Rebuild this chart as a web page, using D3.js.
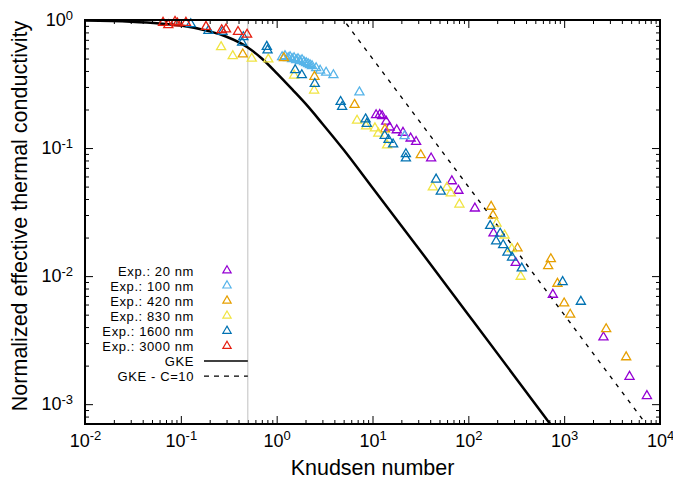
<!DOCTYPE html>
<html lang="en">
<head>
<meta charset="UTF-8">
<title>Knudsen number vs normalized conductivity</title>
<style>
  body { margin: 0; background: #fff; }
  svg { display: block; font-family: "Liberation Sans", Arial, Helvetica, sans-serif; }
  .axis path { display: none; }
  .axis line { stroke: #000; stroke-width: 1; }
  .axis text { fill: #000; }
</style>
</head>
<body>
<script src="https://cdn.jsdelivr.net/npm/d3@7"></script>
<script>

// ---- data ----
var kn20 = [10.9, 11.9, 12.6, 13.9, 15.1, 17.9, 20.8, 25.0, 28.5, 40.9, 67.3, 78.8, 117, 183, 312, 762, 2570, 4808, 7300];
var k20  = [0.181, 0.182, 0.178, 0.161, 0.145, 0.138, 0.132, 0.119, 0.112, 0.0832, 0.0552, 0.0465, 0.0338, 0.0216, 0.0127, 0.00717, 0.00333, 0.00164, 0.00116];

var kn100 = [1.14, 1.22, 1.32, 1.38, 1.45, 1.52, 1.60, 1.67, 1.75, 1.84, 1.93, 2.03, 2.13, 2.23, 2.34, 2.58, 2.84, 3.28, 3.91, 7.30, 21.6];
var k100  = [0.514, 0.524, 0.505, 0.514, 0.496, 0.505, 0.487, 0.496, 0.479, 0.487, 0.470, 0.462, 0.453, 0.445, 0.437, 0.422, 0.403, 0.389, 0.372, 0.273, 0.124];

var kn420 = [0.443, 1.19, 2.48, 6.50, 13.5, 31.9, 173, 181, 326, 726, 681, 851, 1000, 1156, 2743, 4436];
var k420  = [0.540, 0.505, 0.361, 0.218, 0.140, 0.0883, 0.0349, 0.0298, 0.0165, 0.0136, 0.0120, 0.00874, 0.00614, 0.00501, 0.00386, 0.00233];

var kn830 = [0.263, 0.348, 0.550, 0.818, 1.52, 2.46, 6.90, 8.57, 10.6, 11.5, 14.2, 42.6, 59.7, 65.6, 80.7, 197, 239, 284, 352];
var k830  = [0.616, 0.524, 0.500, 0.493, 0.369, 0.282, 0.164, 0.148, 0.143, 0.130, 0.105, 0.0494, 0.0492, 0.0444, 0.0363, 0.0258, 0.0208, 0.0163, 0.00991];

var kn1600 = [0.127, 0.194, 0.272, 0.449, 0.436, 0.789, 0.803, 1.56, 1.83, 2.50, 4.65, 4.82, 8.47, 8.72, 13.4, 14.7, 16.4, 22.3, 22.3, 46.1, 51.6, 169, 215, 195, 231, 256, 286, 361, 964, 1493];
var k1600  = [0.931, 0.825, 0.810, 0.737, 0.667, 0.619, 0.580, 0.407, 0.372, 0.318, 0.230, 0.210, 0.168, 0.155, 0.125, 0.116, 0.107, 0.0899, 0.0832, 0.0569, 0.0458, 0.0247, 0.0215, 0.0187, 0.0175, 0.0153, 0.0140, 0.0115, 0.00901, 0.00632];

var kn3000 = [0.0652, 0.0740, 0.0869, 0.0919, 0.113, 0.183, 0.267, 0.296, 0.395, 0.491];
var k3000  = [0.953, 0.914, 0.970, 0.942, 0.953, 0.887, 0.835, 0.846, 0.810, 0.770];

// model curves
var gkeKn = [0.01, 0.03, 0.06, 0.1, 0.2, 0.3, 0.5, 0.7, 1, 1.5, 2, 3, 5, 10, 30, 100, 300, 1000];
var gkeK  = [0.99, 0.97, 0.94, 0.905, 0.815, 0.74, 0.61, 0.50, 0.385, 0.28, 0.222, 0.155, 0.097, 0.049, 0.0166, 0.005, 0.00167, 0.0005];
var gkeCKn = [4, 5, 10, 100, 1000, 10000];
var gkeCK  = [1.25, 1.0, 0.5, 0.05, 0.005, 0.0005];

var labels = ["Exp.: 20 nm", "Exp.: 100 nm", "Exp.: 420 nm", "Exp.: 830 nm", "Exp.: 1600 nm", "Exp.: 3000 nm"];
var colors = ["#9400D3", "#56B4E9", "#E69F00", "#F0E442", "#0072B2", "#E51E10"];

var xMajor = [1e-2, 1e-1, 1, 10, 100, 1000, 10000];
var yMajor = [1e-3, 1e-2, 1e-1, 1];

// ---- chart ----
var width = 673, height = 486;
var margin = {top: 20, right: 13, bottom: 62, left: 85};

var svg = d3.select("body").append("svg")
    .attr("width", width)
    .attr("height", height);

var x = d3.scaleLog().domain([1e-2, 1e4]).range([margin.left, width - margin.right]);
var y = d3.scaleLog().domain([7e-4, 1]).range([height - margin.bottom, margin.top]);

var xMinor = [], yMinor = [];
xMajor.slice(0, -1).forEach(function(d){
  for (var i = 2; i < 10; i++) xMinor.push(d * i);
});
[1e-4].concat(yMajor.slice(0, -1)).forEach(function(d){
  for (var i = 2; i < 10; i++) if (d * i >= 7e-4) yMinor.push(d * i);
});

var series = [
  {kn: kn20, k: k20}, {kn: kn100, k: k100}, {kn: kn420, k: k420},
  {kn: kn830, k: k830}, {kn: kn1600, k: k1600}, {kn: kn3000, k: k3000}
];
series.forEach(function(s, i){
  s.label = labels[i];
  s.color = colors[i];
  s.points = s.kn.map(function(v, j){ return [v, s.k[j]]; });
});

svg.append("clipPath").attr("id", "plot")
  .append("rect")
    .attr("x", margin.left).attr("y", margin.top)
    .attr("width", width - margin.left - margin.right)
    .attr("height", height - margin.top - margin.bottom);

// ticks (inward, mirrored)
function sup(sel){
  sel.each(function(d){
    var t = d3.select(this).text(null);
    t.append("tspan").text("10");
    t.append("tspan").attr("dy", "-0.5em").attr("font-size", "13px")
      .text(Math.round(Math.log10(d)));
  });
}

var bottom = height - margin.bottom, right = width - margin.right;

var gx = svg.append("g").attr("class", "axis")
    .attr("transform", "translate(0," + bottom + ")")
    .call(d3.axisBottom(x).tickValues(xMajor).tickSize(-8).tickPadding(10).tickFormat(function(){ return ""; }));
gx.attr("font-size", 18).attr("font-family", null);
gx.selectAll(".tick text").call(sup);
svg.append("g").attr("class", "axis")
    .attr("transform", "translate(0," + bottom + ")")
    .call(d3.axisBottom(x).tickValues(xMinor).tickSize(-4).tickFormat(""));
svg.append("g").attr("class", "axis")
    .attr("transform", "translate(0," + margin.top + ")")
    .call(d3.axisTop(x).tickValues(xMajor).tickSize(-8).tickFormat(""));
svg.append("g").attr("class", "axis")
    .attr("transform", "translate(0," + margin.top + ")")
    .call(d3.axisTop(x).tickValues(xMinor).tickSize(-4).tickFormat(""));

var gy = svg.append("g").attr("class", "axis")
    .attr("transform", "translate(" + margin.left + ",0)")
    .call(d3.axisLeft(y).tickValues(yMajor).tickSize(-8).tickPadding(12).tickFormat(function(){ return ""; }));
gy.attr("font-size", 18).attr("font-family", null);
gy.selectAll(".tick text").call(sup);
svg.append("g").attr("class", "axis")
    .attr("transform", "translate(" + margin.left + ",0)")
    .call(d3.axisLeft(y).tickValues(yMinor).tickSize(-4).tickFormat(""));
svg.append("g").attr("class", "axis")
    .attr("transform", "translate(" + right + ",0)")
    .call(d3.axisRight(y).tickValues(yMajor).tickSize(-8).tickFormat(""));
svg.append("g").attr("class", "axis")
    .attr("transform", "translate(" + right + ",0)")
    .call(d3.axisRight(y).tickValues(yMinor).tickSize(-4).tickFormat(""));

// gray marker line at Kn = 0.5
svg.append("line")
    .attr("x1", x(0.5)).attr("x2", x(0.5))
    .attr("y1", margin.top).attr("y2", bottom)
    .attr("stroke", "#c0c0c0").attr("stroke-width", 1);

// model curves
var line = d3.line()
    .x(function(d){ return x(d[0]); })
    .y(function(d){ return y(d[1]); })
    .curve(d3.curveMonotoneX);

var curves = svg.append("g").attr("clip-path", "url(#plot)");
curves.append("path")
    .datum(gkeKn.map(function(v, i){ return [v, gkeK[i]]; }))
    .attr("d", line)
    .attr("fill", "none").attr("stroke", "#000").attr("stroke-width", 2.5);
curves.append("path")
    .datum(gkeCKn.map(function(v, i){ return [v, gkeCK[i]]; }))
    .attr("d", line)
    .attr("fill", "none").attr("stroke", "#000").attr("stroke-width", 1.4)
    .attr("stroke-dasharray", "4,6");

// experiments
var tri = d3.symbol().type(d3.symbolTriangle).size(36);
series.forEach(function(s){
  svg.append("g").selectAll("path")
    .data(s.points)
    .enter()
    .append("path")
      .attr("d", tri)
      .attr("transform", function(d){ return "translate(" + x(d[0]) + "," + y(d[1]) + ")"; })
      .attr("fill", "none")
      .attr("stroke", s.color)
      .attr("stroke-width", 1.3);
});

// legend
var leg = svg.append("g").attr("font-size", 13).attr("letter-spacing", 0.6);
var rowY = function(i){ return 270.5 + i * 15.1; };
series.forEach(function(s, i){
  leg.append("text").attr("x", 194).attr("y", rowY(i) + 5)
    .attr("text-anchor", "end").text(s.label);
  leg.append("path").attr("d", d3.symbol().type(d3.symbolTriangle).size(30))
    .attr("transform", "translate(227," + rowY(i) + ")")
    .attr("fill", "none").attr("stroke", s.color).attr("stroke-width", 1.2);
});
leg.append("text").attr("x", 194).attr("y", rowY(6) + 5).attr("text-anchor", "end").text("GKE");
leg.append("line").attr("x1", 204).attr("x2", x(0.5)).attr("y1", rowY(6)).attr("y2", rowY(6))
    .attr("stroke", "#000").attr("stroke-width", 1.5);
leg.append("text").attr("x", 194).attr("y", rowY(7) + 5).attr("text-anchor", "end").text("GKE - C=10");
leg.append("line").attr("x1", 204).attr("x2", x(0.5)).attr("y1", rowY(7)).attr("y2", rowY(7))
    .attr("stroke", "#000").attr("stroke-width", 1.2).attr("stroke-dasharray", "5,5");

// border
svg.append("rect")
    .attr("x", margin.left).attr("y", margin.top)
    .attr("width", width - margin.left - margin.right)
    .attr("height", height - margin.top - margin.bottom)
    .attr("fill", "none").attr("stroke", "#000").attr("stroke-width", 2);

// axis titles
svg.append("text")
    .attr("x", (margin.left + right) / 2).attr("y", 475)
    .attr("text-anchor", "middle").attr("font-size", 21.5)
    .text("Knudsen number");
svg.append("text")
    .attr("transform", "translate(27,216) rotate(-90)")
    .attr("text-anchor", "middle").attr("font-size", 21.5)
    .text("Normalized effective thermal conductivity");

</script>
</body>
</html>
